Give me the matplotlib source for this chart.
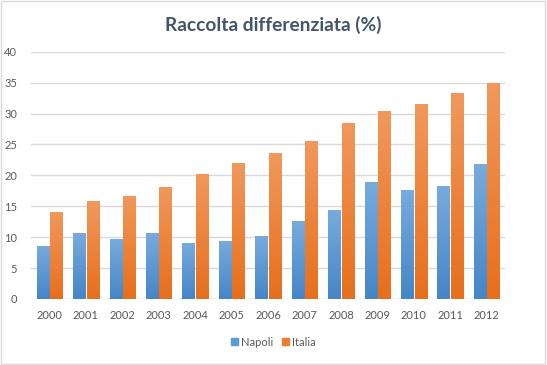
import numpy as np
import matplotlib
matplotlib.use("Agg")
from matplotlib import pyplot as plt
from matplotlib.patches import Rectangle
from matplotlib.colors import LinearSegmentedColormap

years = ['2000', '2001', '2002', '2003', '2004', '2005', '2006',
         '2007', '2008', '2009', '2010', '2011', '2012']
napoli = [8.6, 10.7, 9.7, 10.7, 9.1, 9.4, 10.2, 12.6, 14.4, 18.9, 17.6, 18.3, 21.8]
italia = [14.0, 15.8, 16.7, 18.2, 20.3, 22.0, 23.6, 25.5, 28.4, 30.4, 31.5, 33.3, 35.0]

plt.rcParams['font.family'] = ['Lato', 'DejaVu Sans']

fig = plt.figure(figsize=(5.47, 3.65), dpi=100)
ax = fig.add_axes([0.057, 0.181, 0.866, 0.677])

x = np.arange(len(years))
w = 0.33
off = 0.185

def grad_bars(xs, vals, top_col, bot_col, label):
    bars = ax.bar(xs, vals, w, color=bot_col, label=label, zorder=2)
    cmap = LinearSegmentedColormap.from_list('g', [bot_col, top_col])
    grad = np.linspace(0, 1, 100).reshape(-1, 1)
    for b in bars:
        x0 = b.get_x()
        im = ax.imshow(grad, cmap=cmap, extent=[x0, x0 + b.get_width(), 0, b.get_height()],
                       origin='lower', aspect='auto', zorder=2.5)
        im.set_clip_path(b)
    return bars

grad_bars(x - off, napoli, '#78ABDC', '#4586C8', 'Napoli')
grad_bars(x + off, italia, '#F1985C', '#E76F1C', 'Italia')

ax.set_xlim(-0.5, len(years) - 0.5)
ax.set_ylim(0, 40)
ax.set_yticks(range(0, 41, 5))
ax.set_xticks(x)
ax.set_xticklabels(years)
ax.grid(axis='y', color='#D9D9D9', linewidth=1, zorder=0)
for s in ax.spines.values():
    s.set_visible(False)
ax.tick_params(length=0, labelsize=8, labelcolor='#595959')
ax.tick_params(axis='x', pad=8)
ax.tick_params(axis='y', pad=10)
ax.axhline(0, color='#D9D9D9', linewidth=1, zorder=1)

fig.text(0.5, 0.933, 'Raccolta differenziata (%)', ha='center', va='center',
         fontsize=13.8, fontweight='bold', color='#44546A')

handles = [Rectangle((0, 0), 1, 1, color='#5B9BD5'), Rectangle((0, 0), 1, 1, color='#ED7D31')]
fig.legend(handles, ['Napoli', 'Italia'], loc='center', bbox_to_anchor=(0.5, 0.063),
           ncol=2, frameon=False, fontsize=8, handlelength=0.6, handleheight=0.6,
           handletextpad=0.3, columnspacing=0.8, labelcolor='#595959')

fig.add_artist(Rectangle((0.002, 0.003), 0.994, 0.993, transform=fig.transFigure,
                         fill=False, edgecolor='#D9D9D9', linewidth=1))

fig.savefig('out.png', dpi=100)
